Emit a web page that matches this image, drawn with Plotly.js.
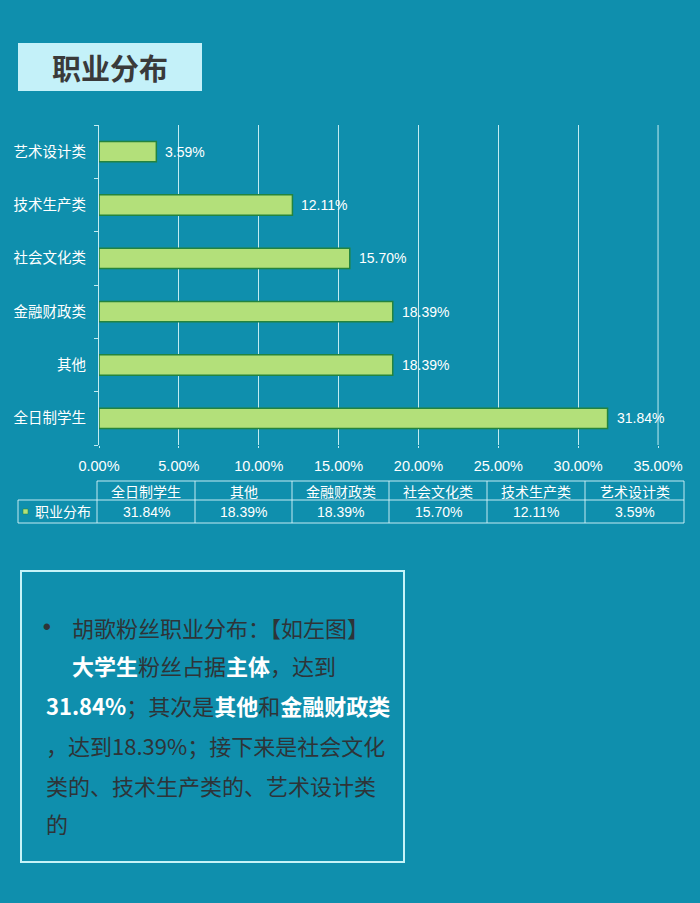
<!DOCTYPE html>
<html>
<head>
<meta charset="utf-8">
<script src="https://cdn.plot.ly/plotly-3.0.1.min.js"></script>
<style>
html,body{margin:0;padding:0;background:#0f8fad;}
#chart{width:700px;height:903px;}
</style>
</head>
<body>
<div id="chart"></div>
<script>
// ---- data ----
const categories = ["全日制学生", "其他", "金融财政类", "社会文化类", "技术生产类", "艺术设计类"];
const values = [31.84, 18.39, 18.39, 15.70, 12.11, 3.59];
const seriesName = "职业分布";
const chartTitle = "职业分布";
const xMax = 35;

// ---- layout helpers (pixel -> paper) ----
const W = 700, H = 903;
const L = 99, R = 659, T = 125, B = 445;
const px = x => (x - L) / (R - L);
const py = y => (B - y) / (B - T);

const FONT = "Noto Sans CJK SC, Arial, sans-serif";
const TXT = "#2e3438";
const LINE = "rgba(215,245,250,0.9)";

const trace = {
  type: "bar",
  orientation: "h",
  y: categories,
  x: values,
  width: 0.38,
  marker: {color: "#b3e07a", line: {color: "#23843f", width: 1.5}},
  hoverinfo: "none"
};

const shapes = [];
const annotations = [];

// last gridline at axis max
shapes.push({type: "line", xref: "x", yref: "paper", x0: xMax, x1: xMax, y0: 0, y1: 1,
  line: {color: LINE, width: 1}, layer: "below"});

// bar value labels (data coords)
categories.forEach((c, i) => annotations.push({xref: "x", yref: "y", x: values[i], y: c,
  text: values[i].toFixed(2) + "%", showarrow: false, xanchor: "left", yanchor: "middle",
  xshift: 7, font: {family: "Arial, sans-serif", size: 14, color: "#ffffff"}}));

// title box
shapes.push({type: "rect", xref: "paper", yref: "paper",
  x0: px(18), x1: px(202), y0: py(43), y1: py(91),
  fillcolor: "#c4f1f9", line: {width: 0}, layer: "below"});
annotations.push({xref: "paper", yref: "paper", x: px(110), y: py(67),
  text: "<b>" + chartTitle + "</b>", showarrow: false, xanchor: "center", yanchor: "middle",
  font: {family: FONT, size: 29, color: "#3a3a3a"}});

// data table
const colX = [97, 195, 292, 389, 487, 585, 684];
const yTop = 481, yMid = 500, yBot = 523, xLeft = 18;
function hline(y, x0, x1) {
  shapes.push({type: "line", xref: "paper", yref: "paper", x0: px(x0), x1: px(x1), y0: py(y), y1: py(y),
    line: {color: LINE, width: 1}});
}
function vline(x, y0, y1) {
  shapes.push({type: "line", xref: "paper", yref: "paper", x0: px(x), x1: px(x), y0: py(y0), y1: py(y1),
    line: {color: LINE, width: 1}});
}
hline(yTop, colX[0], colX[6]);
hline(yMid, xLeft, colX[6]);
hline(yBot, xLeft, colX[6]);
vline(xLeft, yMid, yBot);
colX.forEach(x => vline(x, yTop, yBot));
categories.forEach((c, i) => {
  const cx = (colX[i] + colX[i + 1]) / 2;
  annotations.push({xref: "paper", yref: "paper", x: px(cx), y: py((yTop + yMid) / 2),
    text: c, showarrow: false, xanchor: "center", yanchor: "middle",
    font: {family: FONT, size: 14, color: "#ffffff"}});
  annotations.push({xref: "paper", yref: "paper", x: px(cx), y: py((yMid + yBot) / 2 + 0.5),
    text: values[i].toFixed(2) + "%", showarrow: false, xanchor: "center", yanchor: "middle",
    font: {family: "Arial, sans-serif", size: 14, color: "#ffffff"}});
});
// legend key in table
shapes.push({type: "rect", xref: "paper", yref: "paper",
  x0: px(23), x1: px(28), y0: py(509), y1: py(514),
  fillcolor: "#b3e07a", line: {color: "#23843f", width: 0.5}});
annotations.push({xref: "paper", yref: "paper", x: px(33), y: py(511),
  text: seriesName, showarrow: false, xanchor: "left", yanchor: "middle",
  font: {family: FONT, size: 14, color: "#ffffff"}});

// text box
shapes.push({type: "rect", xref: "paper", yref: "paper",
  x0: px(21), x1: px(404), y0: py(571), y1: py(862),
  fillcolor: "rgba(0,0,0,0)", line: {color: "#c6f3f8", width: 2}});

const W_ = s => '<b><span style="color:#ffffff">' + s + '</span></b>';
const lines = [
  {x: 70, y: 627, t: "胡歌粉丝职业分布：【如左图】"},
  {x: 70, y: 665, t: W_("大学生") + "粉丝占据" + W_("主体") + "，达到"},
  {x: 44, y: 705, t: W_("31.84%") + "；其次是" + W_("其他") + "和" + W_("金融财政类")},
  {x: 44, y: 745, t: "，达到18.39%；接下来是社会文化"},
  {x: 44, y: 785, t: "类的、技术生产类的、艺术设计类"},
  {x: 44, y: 823, t: "的"}
];
lines.forEach(l => annotations.push({xref: "paper", yref: "paper", x: px(l.x), y: py(l.y),
  text: l.t, showarrow: false, xanchor: "left", yanchor: "middle",
  font: {family: FONT, size: 22, color: TXT}}));
// bullet
annotations.push({xref: "paper", yref: "paper", x: px(47), y: py(626),
  text: "<b>•</b>", showarrow: false, xanchor: "center", yanchor: "middle",
  font: {family: "Arial, sans-serif", size: 22, color: TXT}});

const layout = {
  width: W, height: H,
  paper_bgcolor: "#0f8fad",
  plot_bgcolor: "rgba(0,0,0,0)",
  margin: {l: L, r: W - R, t: T, b: H - B, pad: 0},
  showlegend: false,
  font: {family: FONT, color: "#ffffff"},
  xaxis: {
    range: [0, 35.06], dtick: 5, tick0: 0,
    tickformat: ".2f", ticksuffix: "%",
    showgrid: true, gridcolor: LINE, gridwidth: 1,
    zeroline: false, showline: false,
    ticks: "outside", ticklen: 2, tickcolor: LINE,
    ticklabelstandoff: 6,
    tickfont: {family: "Arial, sans-serif", size: 14.5, color: "#ffffff"},
    fixedrange: true
  },
  yaxis: {
    type: "category",
    showgrid: false, zeroline: false,
    showline: true, linecolor: LINE, linewidth: 1,
    ticks: "outside", tickson: "boundaries", ticklen: 4, tickcolor: LINE,
    tickfont: {family: FONT, size: 14.5, color: "#ffffff"},
    ticklabelstandoff: 9,
    fixedrange: true
  },
  shapes: shapes,
  annotations: annotations
};

Plotly.newPlot("chart", [trace], layout, {displayModeBar: false, staticPlot: true});
</script>
</body>
</html>
